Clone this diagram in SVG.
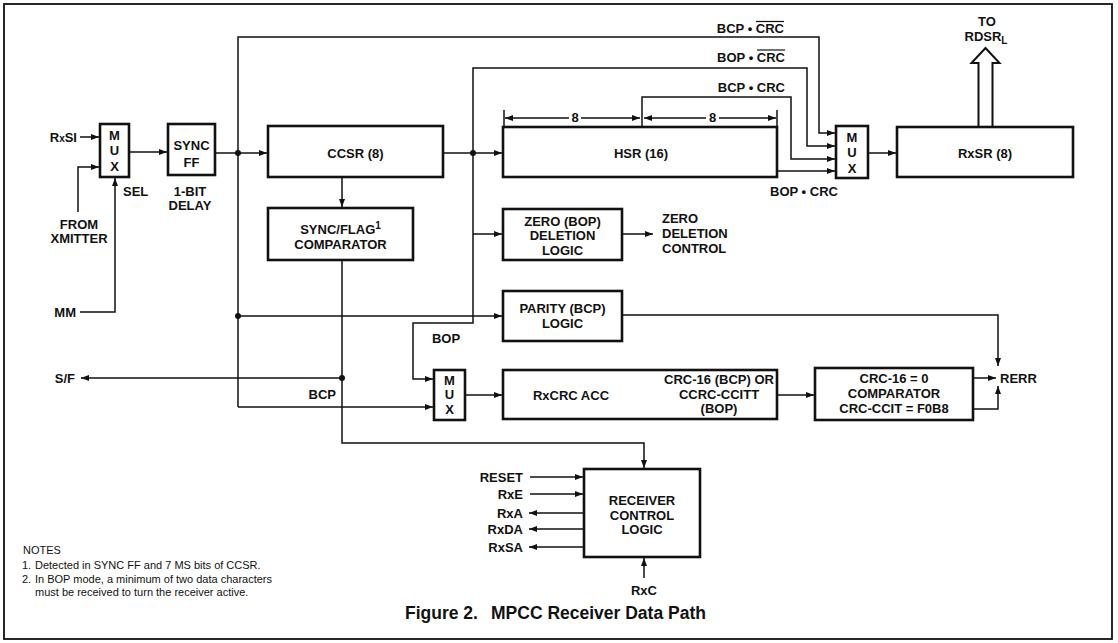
<svg xmlns="http://www.w3.org/2000/svg" width="1118" height="643" viewBox="0 0 1118 643">
<defs>
<marker id="ah" markerUnits="userSpaceOnUse" markerWidth="9" markerHeight="7" refX="8" refY="3.5" orient="auto">
<path d="M0,0.5 L8,3.5 L0,6.5 z" fill="#111"/>
</marker>
<style>
.box{fill:#fff;stroke:#111;stroke-width:2.6}
.ln{fill:none;stroke:#111;stroke-width:1.5}
.ar{fill:none;stroke:#111;stroke-width:1.5;marker-end:url(#ah)}
.dot{fill:#111}
.t{font-family:"Liberation Sans",Arial,Helvetica,sans-serif;font-weight:bold;font-size:13px;fill:#111}
.c{text-anchor:middle}
.e{text-anchor:end}
.n{font-family:"Liberation Sans",Arial,Helvetica,sans-serif;font-size:11px;fill:#111}
.cap{font-family:"Liberation Sans",Arial,Helvetica,sans-serif;font-weight:bold;font-size:17.5px;fill:#111}
</style>
</defs>
<rect x="0" y="0" width="1118" height="643" fill="#fff"/>
<rect x="4" y="4" width="1108" height="635" fill="none" stroke="#111" stroke-width="1.8"/>

<g id="connectors">
<path class="ar" d="M80,137 H99"/>
<path class="ar" d="M78,212 V167 H99"/>
<path class="ar" d="M80,312 H115 V178"/>
<path class="ar" d="M129,152 H167"/>
<path class="ar" d="M215,153 H267"/>
<path class="ar" d="M238,407 V37 H819 V133 H835"/>
<path class="ar" d="M238,407 H433"/>
<path class="ar" d="M238,316 H502"/>
<path class="ar" d="M443,153 H502"/>
<path class="ar" d="M473,153 V68 H807 V146 H835"/>
<path class="ar" d="M473,153 V323 H413 V379 H433"/>
<path class="ar" d="M473,234 H502"/>
<path class="ar" d="M622,234 H653"/>
<path class="ar" d="M642,127 V97 H791 V159 H835"/>
<path class="ar" d="M777,171 H835"/>
<path class="ar" d="M868,153 H896"/>
<path class="ar" d="M342,177 V207"/>
<path class="ar" d="M342,260 V443 H644 V468"/>
<path class="ar" d="M342,378 H81"/>
<path class="ar" d="M465,395 H502"/>
<path class="ar" d="M777,395 H814"/>
<path class="ar" d="M973,378 H996"/>
<path class="ar" d="M973,409 H998 V386"/>
<path class="ar" d="M622,315 H998 V366"/>
<path class="ar" d="M530,477 H583"/>
<path class="ar" d="M530,494 H583"/>
<path class="ar" d="M584,513 H529"/>
<path class="ar" d="M584,529 H529"/>
<path class="ar" d="M584,547 H529"/>
<path class="ar" d="M644,578 V558"/>
<circle class="dot" cx="238" cy="153" r="3"/>
<circle class="dot" cx="238" cy="316" r="3"/>
<circle class="dot" cx="473" cy="153" r="3"/>
<circle class="dot" cx="342" cy="378" r="3"/>
<path class="ln" d="M504,110 V126"/>
<path class="ln" d="M777,110 V126"/>
<path class="ar" d="M569,118 H505"/>
<path class="ar" d="M581,118 H640"/>
<path class="ar" d="M706,118 H644"/>
<path class="ar" d="M719,118 H776"/>
<text class="t c" x="575" y="122" font-size="10.5">8</text>
<text class="t c" x="712.5" y="122" font-size="10.5">8</text>
<polygon points="978.5,127 978.5,63 971.5,63 985.5,48 999.5,63 992.5,63 992.5,127" fill="#fff" stroke="#111" stroke-width="2"/>
</g>

<g id="labels">
<text class="t e" x="77" y="141.5">R<tspan font-size="10">x</tspan>SI</text>
<text class="t c" x="79" y="228.5">FROM</text>
<text class="t c" x="79" y="242.5">XMITTER</text>
<text class="t e" x="76" y="316.5">MM</text>
<text class="t" x="123" y="195.5">SEL</text>
<text class="t c" x="190" y="195.5">1-BIT</text>
<text class="t c" x="190" y="209.5">DELAY</text>
<text class="t e" x="784" y="33">BCP • CRC</text>
<line x1="756" y1="21.5" x2="784" y2="21.5" stroke="#111" stroke-width="1.2"/>
<text class="t e" x="785" y="61.5">BOP • CRC</text>
<line x1="757" y1="50" x2="785" y2="50" stroke="#111" stroke-width="1.2"/>
<text class="t e" x="785" y="91.5">BCP • CRC</text>
<text class="t c" x="804" y="195.5">BOP • CRC</text>
<text class="t c" x="987" y="26">TO</text>
<text class="t c" x="986" y="41">RDSR<tspan font-size="10" dy="3">L</tspan></text>
<text class="t" x="662" y="222.5">ZERO</text>
<text class="t" x="662" y="237.5">DELETION</text>
<text class="t" x="662" y="252.5">CONTROL</text>
<text class="t c" x="446" y="342.5">BOP</text>
<text class="t e" x="75" y="382.5">S/F</text>
<text class="t e" x="336" y="398.5">BCP</text>
<text class="t" x="1000" y="382.5">RERR</text>
<text class="t e" x="523" y="481.5">RESET</text>
<text class="t e" x="523" y="498.5">RxE</text>
<text class="t e" x="523" y="517.5">RxA</text>
<text class="t e" x="523" y="533.5">RxDA</text>
<text class="t e" x="523" y="551.5">RxSA</text>
<text class="t c" x="644" y="594.5">RxC</text>
</g>

<g id="mux1">
<rect class="box" x="100" y="124" width="29" height="53"/>
<text class="t c" x="114.5" y="139.5">M</text>
<text class="t c" x="114.5" y="155">U</text>
<text class="t c" x="114.5" y="170.5">X</text>
</g>
<g id="syncff">
<rect class="box" x="168" y="124" width="47" height="51"/>
<text class="t c" x="191.5" y="149.5">SYNC</text>
<text class="t c" x="191.5" y="167">FF</text>
</g>
<g id="ccsr">
<rect class="box" x="268" y="126" width="175" height="51"/>
<text class="t c" x="355.5" y="157.5">CCSR (8)</text>
</g>
<g id="hsr">
<rect class="box" x="503" y="127" width="274" height="50"/>
<text class="t c" x="641" y="157.5">HSR (16)</text>
</g>
<g id="mux2">
<rect class="box" x="836" y="126" width="32" height="52"/>
<text class="t c" x="852" y="141.5">M</text>
<text class="t c" x="852" y="157">U</text>
<text class="t c" x="852" y="172.5">X</text>
</g>
<g id="rxsr">
<rect class="box" x="897" y="127" width="176" height="50"/>
<text class="t c" x="985" y="157.5">RxSR (8)</text>
</g>
<g id="syncflag">
<rect class="box" x="268" y="208" width="145" height="52"/>
<text class="t c" x="340.5" y="233.5">SYNC/FLAG<tspan font-size="10" dy="-5">1</tspan></text>
<text class="t c" x="340.5" y="248.5">COMPARATOR</text>
</g>
<g id="zero">
<rect class="box" x="503" y="209" width="119" height="51"/>
<text class="t c" x="562.5" y="225.5">ZERO (BOP)</text>
<text class="t c" x="562.5" y="240">DELETION</text>
<text class="t c" x="562.5" y="254.5">LOGIC</text>
</g>
<g id="parity">
<rect class="box" x="503" y="291" width="119" height="50"/>
<text class="t c" x="562.5" y="312.5">PARITY (BCP)</text>
<text class="t c" x="562.5" y="327.5">LOGIC</text>
</g>
<g id="mux3">
<rect class="box" x="434" y="370" width="31" height="50"/>
<text class="t c" x="449.5" y="384.5">M</text>
<text class="t c" x="449.5" y="399">U</text>
<text class="t c" x="449.5" y="413.5">X</text>
</g>
<g id="rxcrc">
<rect class="box" x="503" y="370" width="274" height="49"/>
<text class="t c" x="571" y="399.5">RxCRC ACC</text>
<text class="t c" x="719" y="383.5" font-size="12.5">CRC-16 (BCP) OR</text>
<text class="t c" x="719" y="398.5">CCRC-CCITT</text>
<text class="t c" x="719" y="412.5">(BOP)</text>
</g>
<g id="crccomp">
<rect class="box" x="815" y="368" width="158" height="52"/>
<text class="t c" x="894" y="382.5">CRC-16 = 0</text>
<text class="t c" x="894" y="397.5">COMPARATOR</text>
<text class="t c" x="894" y="412.5">CRC-CCIT = F0B8</text>
</g>
<g id="receiver">
<rect class="box" x="584" y="469" width="116" height="88"/>
<text class="t c" x="642" y="504.5">RECEIVER</text>
<text class="t c" x="642" y="519.5">CONTROL</text>
<text class="t c" x="642" y="533.5">LOGIC</text>
</g>

<g id="notes">
<text class="n" x="23" y="554" font-size="11.5">NOTES</text>
<text class="n" x="22" y="569">1.</text>
<text class="n" x="35" y="569">Detected in SYNC FF and 7 MS bits of CCSR.</text>
<text class="n" x="22" y="582.5">2.</text>
<text class="n" x="35" y="582.5">In BOP mode, a minimum of two data characters</text>
<text class="n" x="35" y="596">must be received to turn the receiver active.</text>
</g>
<text class="cap" x="405" y="619">Figure 2.<tspan x="491">MPCC Receiver Data Path</tspan></text>
</svg>
